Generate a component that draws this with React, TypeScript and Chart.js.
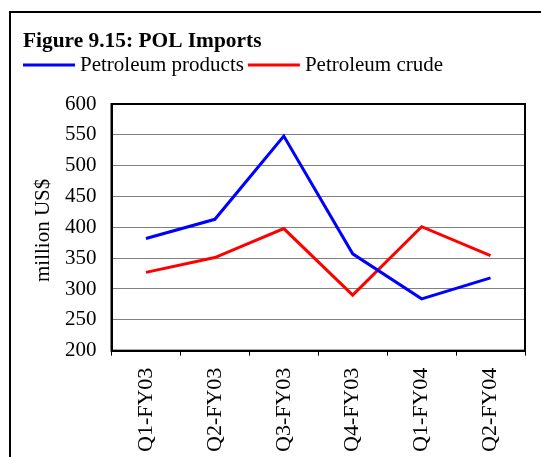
import React, { useEffect, useRef } from "react";
import { Chart, registerables } from "chart.js";

Chart.register(...registerables);

const TITLE = "Figure 9.15: POL Imports";
const categories = ["Q1-FY03", "Q2-FY03", "Q3-FY03", "Q4-FY03", "Q1-FY04", "Q2-FY04"];
const productsLabel = "Petroleum products";
const crudeLabel = "Petroleum crude";
const products = [382, 413, 548, 357, 284, 318];
const crude = [327, 351, 398, 290, 401, 354];
const yMin = 200;
const yMax = 600;
const yStep = 50;
const yTitle = "million US$";

const FONT = "'Liberation Serif', 'Times New Roman', serif";

const decorPlugin = {
  id: "decor",
  beforeDraw(chart: any) {
    const ctx = chart.ctx;
    ctx.save();
    ctx.fillStyle = "#ffffff";
    ctx.fillRect(0, 0, chart.width, chart.height);
    ctx.strokeStyle = "#000000";
    ctx.lineWidth = 2;
    ctx.strokeRect(10, 12, chart.width + 20, chart.height + 20);
    ctx.restore();
  },
  afterDraw(chart: any) {
    const ctx = chart.ctx;
    const a = chart.chartArea;
    ctx.save();
    ctx.strokeStyle = "#000000";
    ctx.lineWidth = 2;
    ctx.strokeRect(a.left, a.top, a.right - a.left, a.bottom - a.top);
    ctx.fillStyle = "#000000";
    ctx.textBaseline = "alphabetic";
    ctx.textAlign = "left";
    ctx.font = `bold 21.4px ${FONT}`;
    ctx.fillText(TITLE, 23, 47);
    ctx.font = `21px ${FONT}`;
    let x = 23;
    const y = 65;
    chart.data.datasets.forEach((ds: any) => {
      ctx.strokeStyle = ds.borderColor;
      ctx.lineWidth = 3;
      ctx.beginPath();
      ctx.moveTo(x, y);
      ctx.lineTo(x + 52, y);
      ctx.stroke();
      x += 57;
      ctx.fillStyle = "#000000";
      ctx.fillText(ds.label, x, y + 6);
      x += ctx.measureText(ds.label).width + 4;
    });
    // y-axis title
    ctx.save();
    ctx.translate(43, (a.top + a.bottom) / 2 + 3);
    ctx.rotate(-Math.PI / 2);
    ctx.textAlign = "center";
    ctx.textBaseline = "middle";
    ctx.font = `21px ${FONT}`;
    ctx.fillText(yTitle, 0, 0);
    ctx.restore();
    ctx.restore();
  },
};

export default function App() {
  const ref = useRef<HTMLCanvasElement | null>(null);
  useEffect(() => {
    if (!ref.current) return;
    const chart = new Chart(ref.current, {
      type: "line",
      data: {
        labels: categories,
        datasets: [
          {
            label: productsLabel,
            data: products,
            borderColor: "#0000ff",
            backgroundColor: "#0000ff",
            borderWidth: 3,
            pointRadius: 0,
            tension: 0,
          },
          {
            label: crudeLabel,
            data: crude,
            borderColor: "#ff0000",
            backgroundColor: "#ff0000",
            borderWidth: 3,
            pointRadius: 0,
            tension: 0,
          },
        ],
      },
      options: {
        animation: false,
        responsive: true,
        maintainAspectRatio: false,
        layout: { padding: { top: 104, right: 16, bottom: 0, left: 50 } },
        plugins: {
          legend: { display: false },
          tooltip: { enabled: false },
        },
        scales: {
          x: {
            offset: true,
            grid: {
              offset: true,
              drawOnChartArea: false,
              drawTicks: true,
              tickLength: 5,
              color: "#000000",
              lineWidth: 1,
            },
            border: { color: "#000000", width: 2 },
            ticks: {
              color: "#000000",
              font: { family: FONT, size: 22 },
              minRotation: 90,
              maxRotation: 90,
              padding: 12,
              autoSkip: false,
            },
          },
          y: {
            min: yMin,
            max: yMax,
            grid: { color: "#808080", lineWidth: 1, drawTicks: false },
            border: { color: "#000000", width: 2 },
            ticks: {
              stepSize: yStep,
              color: "#000000",
              font: { family: FONT, size: 21 },
              padding: 15,
            },
          },
        },
      },
      plugins: [decorPlugin],
    });
    return () => chart.destroy();
  }, []);
  return (
    <div style={{ position: "fixed", left: 0, top: 0, width: 541, height: 464 }}>
      <canvas ref={ref} />
    </div>
  );
}
